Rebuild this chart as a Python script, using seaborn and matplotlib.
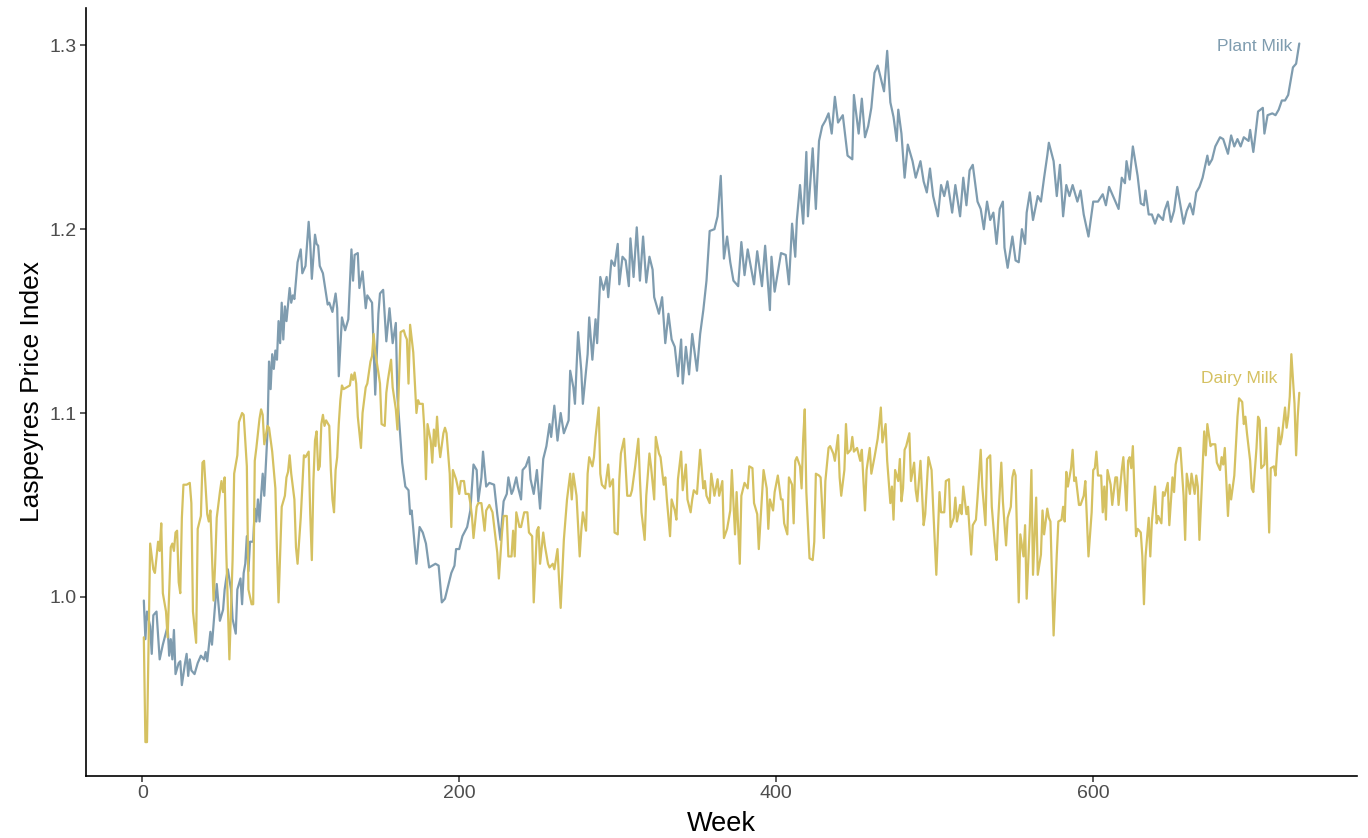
import numpy as np
import pandas as pd
import matplotlib
matplotlib.use("Agg")
import matplotlib.pyplot as plt
import seaborn as sns

plant_weeks = [1, 2, 3, 5, 6, 7, 9, 11, 13, 16, 17, 18, 19, 20, 21, 23, 24, 25, 27, 28, 29, 30, 31, 33, 35, 37, 39, 40, 41, 43, 44, 46, 47, 49, 51, 52, 53, 54, 56, 57, 59, 60, 62, 63, 64, 65, 66, 67, 68, 70, 71, 72, 73, 74, 75, 76, 77, 79, 80, 81, 82, 83, 84, 85, 86, 87, 88, 89, 90, 91, 93, 94, 95, 96, 98, 100, 101, 103, 105, 106, 107, 109, 110, 111,
               112, 114, 117, 118, 120, 122, 123, 124, 126, 128, 130, 132, 133, 134, 136, 137, 139, 141, 142, 145, 147, 149, 150, 152, 154, 156, 158, 160, 161, 164, 166, 168, 169, 170, 172, 173, 175, 177, 179, 181, 185, 187, 189, 191, 193, 195, 197, 198, 200, 202, 205, 207, 209, 211, 212, 214, 215, 217, 219, 222, 224, 226, 228, 230, 231,
               233, 234, 236, 237, 239, 240, 242, 244, 245, 247, 249, 251, 253, 255, 257, 258, 260, 262, 264, 266, 269, 270, 272, 273, 275, 277, 278, 281, 282, 284, 286, 287, 289, 291, 293, 294, 296, 298, 300, 301, 303, 305, 307, 308, 310, 312, 314, 316, 318, 320, 322, 323, 326, 328, 330, 332, 334, 336, 338, 340, 341, 343, 345, 347, 350,
               352, 354, 356, 358, 361, 363, 365, 367, 369, 371, 373, 376, 378, 380, 382, 386, 388, 391, 393, 396, 397, 399, 403, 406, 408, 410, 412, 413, 415, 417, 419, 420, 423, 425, 427, 429, 431, 433, 435, 437, 439, 442, 445, 448, 449, 452, 454, 456, 458, 460, 462, 464, 468, 470,
               472, 474, 476, 477, 479, 481, 483, 486, 488, 491, 493, 495, 497, 499, 502, 504, 506, 508, 511, 513, 516, 518, 520, 522, 524, 527, 529, 531, 533, 535, 537, 539, 541, 543, 544, 546, 549, 551, 553, 555, 557, 558, 560, 562, 565, 567, 569, 571, 572, 575, 577, 579, 581, 583, 585, 587, 590,
               592, 594, 597, 600, 603, 606, 608, 610, 612, 614, 616, 618, 620, 621, 623, 625, 628, 630, 632, 633, 635, 637, 639, 641, 644, 645, 647, 649, 651, 653, 655, 657, 659, 661, 663, 665, 667, 669, 672, 673, 675, 677, 680, 682, 685, 687, 689, 691, 693, 695, 698, 699, 701, 702, 704, 707, 708, 710, 713, 715, 717, 719, 721, 723, 726, 728, 730]
plant_values = [0.998, 0.977, 0.992, 0.984, 0.969, 0.990, 0.992, 0.966, 0.974, 0.984, 0.968, 0.977, 0.966, 0.982, 0.958, 0.964, 0.965, 0.952, 0.964, 0.969, 0.957, 0.966, 0.960, 0.958, 0.964, 0.968, 0.966, 0.970, 0.965, 0.981, 0.974, 0.996, 1.007, 0.987, 0.993, 1.004, 1.010, 1.015, 1.004, 0.988, 0.980, 1.004, 1.010, 0.996, 1.013, 1.018, 1.033, 1.014, 1.030, 1.030, 1.048, 1.041, 1.053, 1.041, 1.055, 1.067, 1.055, 1.089, 1.128, 1.113, 1.132, 1.124, 1.134, 1.129, 1.150, 1.138, 1.160, 1.140, 1.158, 1.150, 1.168, 1.160, 1.164, 1.162, 1.182, 1.189, 1.176, 1.180, 1.204, 1.192, 1.173, 1.197, 1.192, 1.191,
                1.180, 1.176, 1.159, 1.160, 1.155, 1.165, 1.157, 1.120, 1.152, 1.145, 1.151, 1.189, 1.172, 1.186, 1.187, 1.168, 1.177, 1.157, 1.164, 1.160, 1.110, 1.154, 1.165, 1.167, 1.139, 1.157, 1.138, 1.149, 1.109, 1.073, 1.060, 1.058, 1.045, 1.047, 1.027, 1.018, 1.038, 1.035, 1.029, 1.016, 1.018, 1.017, 0.997, 0.999, 1.006, 1.013, 1.017, 1.026, 1.026, 1.033, 1.038, 1.047, 1.072, 1.069, 1.052, 1.065, 1.079, 1.060, 1.062, 1.061, 1.045, 1.031, 1.052, 1.056, 1.065,
                1.056, 1.058, 1.065, 1.060, 1.053, 1.069, 1.071, 1.076, 1.064, 1.056, 1.069, 1.048, 1.075, 1.082, 1.094, 1.087, 1.104, 1.085, 1.100, 1.089, 1.096, 1.123, 1.114, 1.105, 1.144, 1.123, 1.105, 1.132, 1.152, 1.129, 1.151, 1.138, 1.174, 1.167, 1.174, 1.163, 1.183, 1.180, 1.192, 1.170, 1.185, 1.183, 1.169, 1.195, 1.174, 1.201, 1.172, 1.196, 1.171, 1.185, 1.178, 1.163, 1.154, 1.163, 1.138, 1.154, 1.140, 1.136, 1.120, 1.140, 1.116, 1.136, 1.121, 1.143, 1.123,
                1.143, 1.156, 1.172, 1.199, 1.200, 1.207, 1.229, 1.184, 1.196, 1.182, 1.172, 1.169, 1.193, 1.175, 1.189, 1.170, 1.188, 1.169, 1.191, 1.156, 1.185, 1.166, 1.187, 1.186, 1.170, 1.203, 1.185, 1.205, 1.224, 1.203, 1.242, 1.207, 1.244, 1.211, 1.248, 1.256, 1.259, 1.263, 1.252, 1.272, 1.258, 1.262, 1.240, 1.238, 1.273, 1.252, 1.271, 1.250, 1.256, 1.266, 1.285, 1.289, 1.275, 1.297,
                1.269, 1.261, 1.248, 1.265, 1.252, 1.228, 1.246, 1.237, 1.228, 1.237, 1.226, 1.220, 1.233, 1.218, 1.207, 1.224, 1.218, 1.226, 1.209, 1.224, 1.207, 1.228, 1.213, 1.232, 1.235, 1.215, 1.211, 1.200, 1.215, 1.205, 1.209, 1.192, 1.211, 1.215, 1.190, 1.179, 1.196, 1.183, 1.182, 1.200, 1.192, 1.209, 1.220, 1.205, 1.218, 1.215, 1.228, 1.240, 1.247, 1.237, 1.218, 1.235, 1.207, 1.224, 1.218, 1.224, 1.215,
                1.221, 1.208, 1.196, 1.215, 1.215, 1.219, 1.213, 1.223, 1.219, 1.215, 1.211, 1.228, 1.225, 1.237, 1.227, 1.245, 1.229, 1.214, 1.213, 1.221, 1.208, 1.208, 1.203, 1.208, 1.205, 1.210, 1.215, 1.204, 1.210, 1.223, 1.213, 1.203, 1.210, 1.214, 1.208, 1.220, 1.223, 1.228, 1.240, 1.235, 1.238, 1.245, 1.250, 1.249, 1.241, 1.251, 1.245, 1.249, 1.245, 1.250, 1.248, 1.254, 1.242, 1.249, 1.264, 1.266, 1.252, 1.262, 1.263, 1.262, 1.265, 1.270, 1.270, 1.273, 1.288, 1.290, 1.301]

dairy_weeks = [1, 2, 3, 5, 7, 8, 10, 11, 12, 13, 15, 16, 18, 19, 20, 21, 22, 23, 24, 25, 26, 28, 30, 31, 32, 34, 35, 37, 38, 39, 41, 42, 43, 45, 46, 47, 49, 50, 51, 52, 53, 55, 57, 58, 60, 61, 63, 64, 66, 67, 69, 70, 71, 72, 74, 75, 76, 77, 79, 80, 82, 84, 85, 86, 88, 90, 91, 92, 93, 94, 96, 97, 98, 100, 102, 103, 105, 106, 107, 108, 109, 110, 111,
               112, 113, 114, 115, 116, 118, 119, 120, 121, 122, 123, 124, 125, 126, 127, 129, 131, 132, 133, 134, 135, 136, 138, 139, 141, 142, 144, 145, 146, 147, 149, 150, 151, 153, 154, 155, 157, 158, 160, 161, 162, 163, 165, 166, 167, 168, 169, 171, 172, 173, 174, 175, 177, 178, 179, 180, 182, 183, 184, 185, 186, 187, 188, 190, 191, 192, 194, 195, 196, 198, 200, 201, 203, 204, 206, 207, 208, 209, 211, 212, 214, 216, 217, 219, 221, 223, 224, 225, 227, 228, 230, 231,
               233, 234, 235, 236, 238, 239, 241, 243, 244, 246, 247, 249, 250, 251, 253, 254, 256, 257, 259, 260, 262, 263, 264, 266, 268, 270, 271, 272, 274, 276, 277, 278, 280, 281, 282, 284, 285, 286, 288, 289, 290, 292, 294, 295, 297, 298, 300, 301, 302, 304, 305, 306, 308, 309, 311, 313, 314, 315, 317, 318, 320, 321, 323, 324, 326, 327, 329, 330, 331, 333, 334, 336, 337, 338, 340, 341, 343, 344, 346, 347, 348, 350,
               352, 354, 355, 356, 358, 359, 361, 363, 364, 366, 367, 369, 371, 372, 374, 375, 377, 378, 380, 382, 383, 385, 386, 388, 389, 391, 392, 394, 395, 396, 398, 399, 401, 403, 404, 405, 407, 408, 410, 411, 412, 413, 415, 416, 417, 418, 419, 421, 423, 424, 425, 427, 428, 430, 431, 433, 434, 436, 437, 439, 440, 441, 443, 444, 445, 447, 448, 449, 451, 453, 454, 456, 457, 459, 460, 462, 464, 465, 466, 467, 469, 470,
               472, 473, 474, 475, 477, 478, 479, 480, 481, 482, 484, 485, 487, 488, 489, 491, 493, 494, 496, 498, 499, 501, 503, 504, 506, 507, 509, 510, 512, 513, 514, 516, 517, 518, 520, 521, 523, 524, 526, 527, 529, 530, 532, 533, 535, 536, 538, 539, 540, 542, 543, 545, 546, 548, 549, 550, 551, 553, 554, 556, 557, 558, 560, 561, 562, 564, 565, 567, 568, 569, 571, 572, 573, 575, 577, 578, 580, 581, 582, 583, 584, 586, 587, 588, 589, 591,
               592, 594, 595, 597, 599, 600, 601, 602, 603, 605, 606, 607, 608, 609, 611, 612, 614, 615, 616, 618, 619, 621, 622, 623, 624, 625, 627, 628, 630, 631, 632, 633, 635, 636, 637, 639, 640, 641, 643, 644, 645, 647, 648, 650, 651, 652, 654, 655, 657, 658, 659, 661, 662, 664, 665, 666, 667, 669, 670, 671, 672, 674, 675, 677, 678, 680, 681, 682, 683, 685, 686, 687, 689, 691, 692, 694, 695, 696, 697, 699, 700, 701, 703, 704, 705, 706, 708, 709, 711, 712, 714, 715, 717, 718, 719, 721, 722, 723, 724, 725, 727, 728, 729, 730]
dairy_values = [0.978, 0.921, 0.921, 1.029, 1.015, 1.013, 1.030, 1.025, 1.040, 1.002, 0.992, 0.978, 1.027, 1.029, 1.025, 1.035, 1.036, 1.008, 1.002, 1.043, 1.061, 1.061, 1.062, 1.051, 0.992, 0.975, 1.037, 1.044, 1.073, 1.074, 1.045, 1.041, 1.047, 0.998, 1.018, 1.043, 1.057, 1.063, 1.057, 1.065, 1.025, 0.966, 1.020, 1.067, 1.077, 1.095, 1.100, 1.099, 1.071, 1.004, 0.996, 0.996, 1.074, 1.081, 1.097, 1.102, 1.099, 1.083, 1.093, 1.092, 1.079, 1.059, 1.025, 0.997, 1.049, 1.055, 1.065, 1.068, 1.077, 1.067, 1.053, 1.027, 1.018, 1.043, 1.077, 1.076, 1.079, 1.045, 1.020, 1.063, 1.085, 1.090, 1.069,
                1.071, 1.094, 1.099, 1.093, 1.096, 1.093, 1.069, 1.053, 1.046, 1.069, 1.076, 1.094, 1.107, 1.115, 1.113, 1.114, 1.115, 1.121, 1.118, 1.122, 1.116, 1.098, 1.081, 1.100, 1.114, 1.116, 1.128, 1.131, 1.143, 1.133, 1.122, 1.116, 1.094, 1.093, 1.111, 1.118, 1.129, 1.114, 1.102, 1.091, 1.118, 1.144, 1.145, 1.142, 1.140, 1.116, 1.148, 1.133, 1.116, 1.100, 1.107, 1.105, 1.105, 1.091, 1.064, 1.094, 1.085, 1.073, 1.091, 1.082, 1.098, 1.084, 1.076, 1.089, 1.092, 1.089, 1.067, 1.038, 1.069, 1.064, 1.056, 1.063, 1.063, 1.056, 1.056, 1.051, 1.044, 1.032, 1.049, 1.051, 1.051, 1.036, 1.047, 1.050, 1.046, 1.031, 1.024, 1.010, 1.035, 1.044, 1.044, 1.022,
                1.022, 1.036, 1.022, 1.046, 1.038, 1.038, 1.046, 1.046, 1.035, 1.033, 0.997, 1.036, 1.038, 1.018, 1.035, 1.028, 1.018, 1.016, 1.018, 1.015, 1.026, 1.009, 0.994, 1.031, 1.053, 1.067, 1.053, 1.067, 1.055, 1.022, 1.036, 1.046, 1.036, 1.067, 1.076, 1.071, 1.076, 1.087, 1.103, 1.067, 1.061, 1.059, 1.072, 1.060, 1.064, 1.035, 1.034, 1.064, 1.078, 1.086, 1.071, 1.055, 1.055, 1.058, 1.071, 1.086, 1.064, 1.046, 1.031, 1.055, 1.078, 1.071, 1.053, 1.087, 1.078, 1.076, 1.061, 1.065, 1.053, 1.033, 1.053, 1.047, 1.042, 1.064, 1.079, 1.058, 1.072, 1.053, 1.046, 1.053, 1.058, 1.056,
                1.080, 1.059, 1.063, 1.055, 1.051, 1.067, 1.055, 1.064, 1.055, 1.063, 1.032, 1.037, 1.047, 1.069, 1.034, 1.057, 1.018, 1.055, 1.062, 1.059, 1.071, 1.070, 1.051, 1.045, 1.026, 1.055, 1.069, 1.059, 1.037, 1.053, 1.047, 1.057, 1.066, 1.053, 1.053, 1.040, 1.034, 1.065, 1.061, 1.040, 1.074, 1.076, 1.071, 1.059, 1.086, 1.102, 1.057, 1.021, 1.020, 1.030, 1.067, 1.066, 1.065, 1.032, 1.063, 1.081, 1.082, 1.078, 1.074, 1.088, 1.065, 1.055, 1.069, 1.094, 1.078, 1.080, 1.087, 1.079, 1.081, 1.074, 1.080, 1.047, 1.069, 1.081, 1.067, 1.076, 1.086, 1.094, 1.103, 1.084, 1.094, 1.074,
                1.051, 1.060, 1.042, 1.069, 1.063, 1.075, 1.052, 1.059, 1.080, 1.082, 1.089, 1.063, 1.073, 1.058, 1.052, 1.074, 1.039, 1.045, 1.076, 1.069, 1.049, 1.012, 1.057, 1.046, 1.046, 1.063, 1.064, 1.038, 1.043, 1.054, 1.041, 1.050, 1.045, 1.060, 1.045, 1.049, 1.023, 1.039, 1.042, 1.054, 1.080, 1.060, 1.039, 1.075, 1.077, 1.049, 1.028, 1.020, 1.041, 1.073, 1.052, 1.028, 1.043, 1.049, 1.065, 1.069, 1.066, 0.997, 1.034, 1.022, 1.039, 0.999, 1.039, 1.069, 1.012, 1.054, 1.012, 1.023, 1.047, 1.034, 1.048, 1.043, 1.041, 0.979, 1.023, 1.041, 1.042, 1.049, 1.041, 1.068, 1.060, 1.070, 1.080, 1.063, 1.065, 1.050,
                1.050, 1.055, 1.063, 1.022, 1.046, 1.069, 1.070, 1.079, 1.066, 1.066, 1.046, 1.060, 1.042, 1.069, 1.061, 1.050, 1.065, 1.065, 1.050, 1.069, 1.076, 1.047, 1.074, 1.076, 1.070, 1.082, 1.033, 1.037, 1.035, 1.022, 0.996, 1.022, 1.043, 1.022, 1.041, 1.060, 1.040, 1.044, 1.040, 1.057, 1.055, 1.062, 1.039, 1.065, 1.057, 1.072, 1.081, 1.081, 1.055, 1.031, 1.067, 1.056, 1.067, 1.056, 1.066, 1.060, 1.031, 1.070, 1.090, 1.077, 1.094, 1.082, 1.083, 1.083, 1.073, 1.069, 1.076, 1.072, 1.081, 1.044, 1.061, 1.053, 1.066, 1.098, 1.108, 1.106, 1.094, 1.098, 1.089, 1.074, 1.059, 1.057, 1.081, 1.098, 1.096, 1.070, 1.072, 1.092, 1.035, 1.070, 1.071, 1.066, 1.092, 1.083, 1.087, 1.103, 1.092, 1.098, 1.109, 1.132, 1.105, 1.077, 1.098, 1.111]

series_names = ["Plant Milk", "Dairy Milk"]
series_colors = ["#7f9caf", "#d5c161"]
x_ticks = [0, 200, 400, 600]
y_ticks = [1.0, 1.1, 1.2, 1.3]

df = pd.concat([
    pd.DataFrame({"Week": plant_weeks, "Index": plant_values, "Series": series_names[0]}),
    pd.DataFrame({"Week": dairy_weeks, "Index": dairy_values, "Series": series_names[1]}),
], ignore_index=True)

sns.set_theme(style="ticks")
plt.rcParams["font.family"] = ["Liberation Sans", "DejaVu Sans"]

fig = plt.figure(figsize=(13.68, 8.38), dpi=100)
ax = fig.add_axes([0.0629, 0.0745, 0.9291, 0.9155])

sns.lineplot(data=df, x="Week", y="Index", hue="Series", hue_order=series_names,
             palette=dict(zip(series_names, series_colors)), linewidth=1.6,
             legend=False, ax=ax, estimator=None, sort=True)

ax.set_xlim(-35.45, 766.45)
ax.set_ylim(0.9028, 1.3201)
ax.set_xticks(x_ticks)
ax.set_xticklabels([str(t) for t in x_ticks])
ax.set_yticks(y_ticks)
ax.set_yticklabels([f"{t:.1f}" for t in y_ticks])
for s in ["top", "right"]:
    ax.spines[s].set_visible(False)
for s in ["left", "bottom"]:
    ax.spines[s].set_color("black")
    ax.spines[s].set_linewidth(1.2)
ax.tick_params(axis="both", length=4, width=1.1, color="#333333", labelcolor="#4d4d4d",
               labelsize=14, pad=3)
ax.set_xlabel("Week", fontsize=19.5, color="black", labelpad=6)
ax.set_ylabel("Laspeyres Price Index", fontsize=19, color="black", labelpad=4)
ax.grid(False)

ax.text(725.5, 1.2995, series_names[0], color=series_colors[0], fontsize=12.5,
        ha="right", va="center")
ax.text(716, 1.119, series_names[1], color=series_colors[1], fontsize=12.5,
        ha="right", va="center")

fig.savefig("out.png", dpi=100, facecolor="white")
